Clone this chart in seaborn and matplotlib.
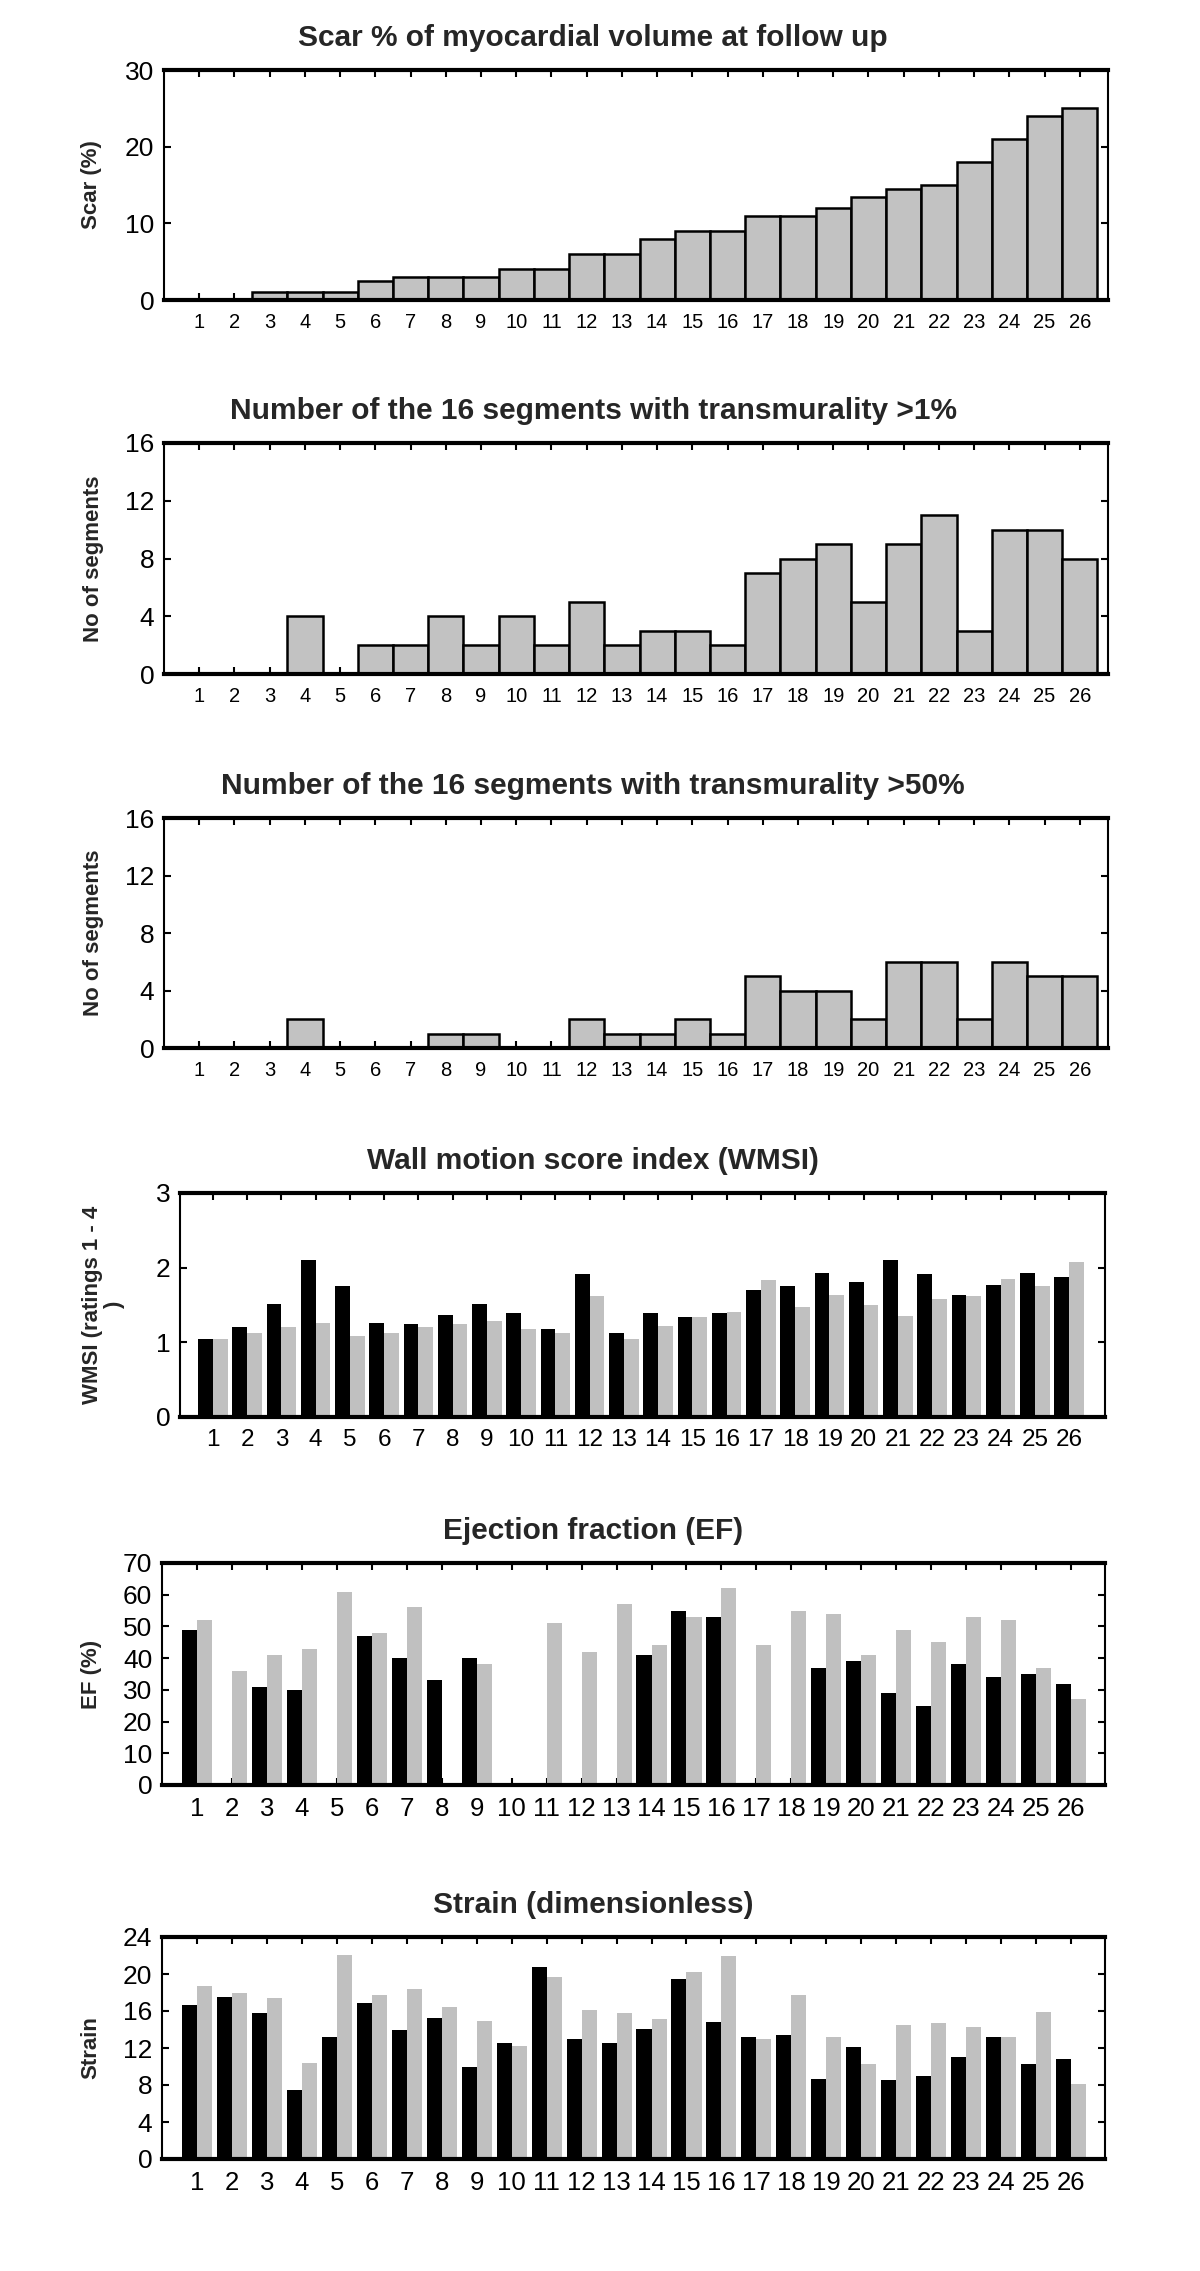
import numpy as np
import pandas as pd
import matplotlib
matplotlib.use("Agg")
import matplotlib.pyplot as plt
import seaborn as sns

# ---------------- data ----------------
patients = [str(i) for i in range(1, 27)]

scar_pct = [0, 0, 1, 1, 1, 2.5, 3, 3, 3, 4, 4, 6, 6, 8, 9, 9, 11, 11, 12, 13.5,
            14.5, 15, 18, 21, 24, 25]
seg_trans_1 = [0, 0, 0, 4, 0, 2, 2, 4, 2, 4, 2, 5, 2, 3, 3, 2, 7, 8, 9, 5, 9, 11,
               3, 10, 10, 8]
seg_trans_50 = [0, 0, 0, 2, 0, 0, 0, 1, 1, 0, 0, 2, 1, 1, 2, 1, 5, 4, 4, 2, 6, 6,
                2, 6, 5, 5]

wmsi_black = [1.05, 1.21, 1.52, 2.10, 1.75, 1.26, 1.24, 1.37, 1.52, 1.39, 1.18,
              1.91, 1.12, 1.39, 1.34, 1.39, 1.70, 1.75, 1.93, 1.81, 2.10, 1.91,
              1.64, 1.77, 1.93, 1.88]
wmsi_gray = [1.05, 1.12, 1.21, 1.26, 1.08, 1.12, 1.21, 1.24, 1.28, 1.18, 1.12,
             1.62, 1.04, 1.22, 1.34, 1.41, 1.83, 1.47, 1.64, 1.50, 1.35, 1.58,
             1.62, 1.85, 1.76, 2.07]

nan = np.nan
ef_black = [49, nan, 31, 30, nan, 47, 40, 33, 40, nan, nan, nan, nan, 41, 55, 53,
            nan, nan, 37, 39, 29, 25, 38, 34, 35, 32]
ef_gray = [52, 36, 41, 43, 61, 48, 56, nan, 38, nan, 51, 42, 57, 44, 53, 62, 44,
           55, 54, 41, 49, 45, 53, 52, 37, 27]

strain_black = [16.6, 17.5, 15.8, 7.5, 13.2, 16.9, 13.9, 15.2, 10.0, 12.5, 20.8,
                13.0, 12.5, 14.1, 19.5, 14.8, 13.2, 13.4, 8.7, 12.1, 8.5, 9.0,
                11.0, 13.2, 10.3, 10.8]
strain_gray = [18.7, 18.0, 17.4, 10.4, 22.1, 17.7, 18.4, 16.4, 14.9, 12.2, 19.7,
               16.1, 15.8, 15.1, 20.2, 22.0, 13.0, 17.7, 13.2, 10.3, 14.5, 14.7,
               14.3, 13.2, 15.9, 8.1]

group_names = ["black", "gray"]

titles = ["Scar % of myocardial volume at follow up",
          "Number of the 16 segments with transmurality >1%",
          "Number of the 16 segments with transmurality >50%",
          "Wall motion score index (WMSI)",
          "Ejection fraction (EF)",
          "Strain (dimensionless)"]
ylabels = ["Scar (%)", "No of segments", "No of segments",
           "WMSI (ratings 1 - 4\n)", "EF (%)", "Strain"]
yticks_list = [[0, 10, 20, 30], [0, 4, 8, 12, 16], [0, 4, 8, 12, 16],
               [0, 1, 2, 3], list(range(0, 71, 10)), list(range(0, 25, 4))]

# ---------------- style ----------------
sns.set_theme(style="white")
plt.rcParams["font.family"] = ["Liberation Sans", "DejaVu Sans"]

W, H = 1200, 2271
fig = plt.figure(figsize=(W / 100, H / 100), dpi=100)

# axes boxes in pixels: left, top, right, bottom
boxes = [(164, 70, 1108, 300), (164, 443, 1108, 674), (164, 818, 1108, 1048),
         (180, 1193, 1105, 1417), (162, 1563, 1105, 1785), (162, 1937, 1105, 2159)]
xlims = [(-1.0, 25.8)] * 3 + [(-0.96, 26.05), (-1.0, 25.97), (-1.0, 25.97)]
ylabel_x = [91, 94, 94, 103.5, 91, 91]
xlabel_sizes = [14.5, 14.5, 14.5, 17.5, 18.5, 18.5]
ylabel_sizes = [16, 16, 16, 16, 16, 16]

axes = []
for b in boxes:
    l, t, r, bt = b
    axes.append(fig.add_axes([l / W, 1 - bt / H, (r - l) / W, (bt - t) / H]))

single = [scar_pct, seg_trans_1, seg_trans_50]
for ax, vals in zip(axes[:3], single):
    df = pd.DataFrame({"patient": patients, "value": vals})
    sns.barplot(data=df, x="patient", y="value", order=patients, color="#c2c2c2",
                saturation=1, width=1.0, edgecolor="black", linewidth=1.8,
                errorbar=None, ax=ax)

paired = [(wmsi_black, wmsi_gray), (ef_black, ef_gray), (strain_black, strain_gray)]
for ax, (vb, vg) in zip(axes[3:], paired):
    df = pd.DataFrame({
        "patient": patients * 2,
        "value": list(vb) + list(vg),
        "group": [group_names[0]] * 26 + [group_names[1]] * 26,
    })
    sns.barplot(data=df, x="patient", y="value", hue="group", order=patients,
                hue_order=group_names, palette=["#000000", "#c0c0c0"],
                saturation=1, width=0.86, linewidth=0, errorbar=None,
                legend=False, ax=ax)

for i, ax in enumerate(axes):
    l, t, r, bt = boxes[i]
    ax.set_xlim(*xlims[i])
    yt = yticks_list[i]
    ax.set_ylim(yt[0], yt[-1])
    ax.set_yticks(yt)
    ax.set_xlabel("")
    ax.set_ylabel("")
    ax.set_facecolor("white")
    for side in ["top", "bottom"]:
        ax.spines[side].set_linewidth(3.0)
        ax.spines[side].set_color("black")
    for side in ["left", "right"]:
        ax.spines[side].set_linewidth(1.5)
        ax.spines[side].set_color("black")
    ax.tick_params(axis="x", which="both", direction="in", length=5, width=1.5,
                   top=True, bottom=True, labelsize=xlabel_sizes[i], pad=9,
                   colors="black")
    ax.tick_params(axis="y", which="both", direction="in", length=5, width=1.5,
                   left=True, right=True, labelsize=19, pad=7, colors="black")
    ax.grid(False)
    # title centered around x = 593 px of the figure
    ax.set_title(titles[i], fontsize=21.5, fontweight="bold", pad=17,
                 x=(593 - l) / (r - l))
    fig.text(ylabel_x[i] / W, 1 - ((t + bt) / 2) / H, ylabels[i], rotation=90,
             ha="center", va="center", fontsize=ylabel_sizes[i],
             fontweight="bold", multialignment="center", linespacing=1.1)

fig.savefig("out.png", dpi=100)
